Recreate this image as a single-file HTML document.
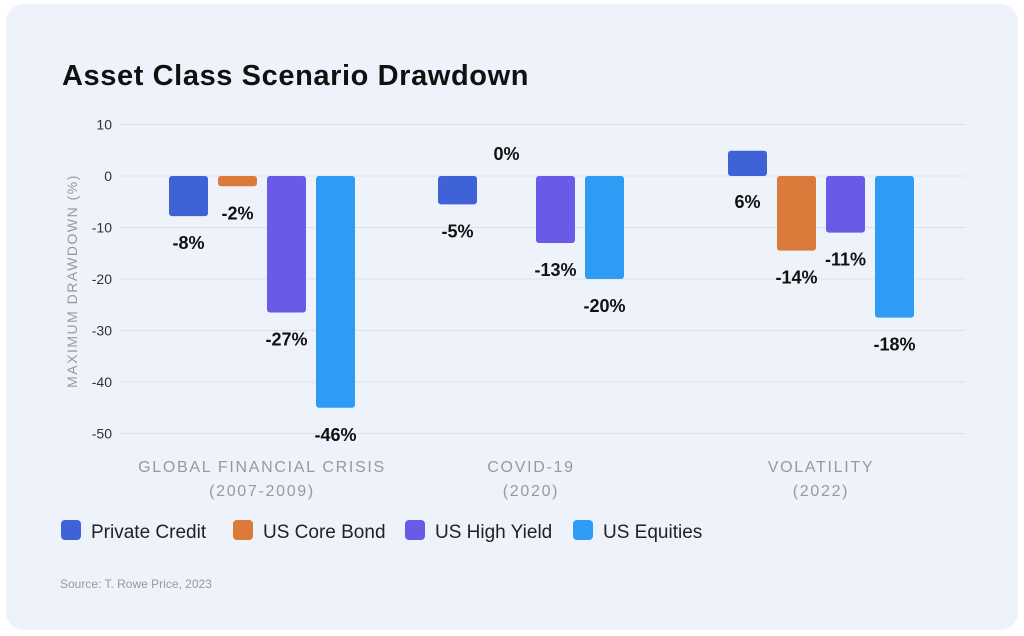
<!DOCTYPE html>
<html><head><meta charset="utf-8"><style>
body{margin:0;width:1024px;height:636px;background:#fff;overflow:hidden;font-family:"Liberation Sans",sans-serif}
#card{position:absolute;left:6px;top:4px;width:1012px;height:626px;background:#eef3fb;border-radius:18px}
</style></head><body>
<div id="card"></div>
<svg id="chart" width="1024" height="636" style="position:absolute;left:0;top:0">
<text x="62" y="85" font-size="29" font-weight="bold" letter-spacing="0.6" fill="#111">Asset Class Scenario Drawdown</text>
<text transform="translate(77,281) rotate(-90)" text-anchor="middle" font-size="14" letter-spacing="1.5" fill="#999">MAXIMUM DRAWDOWN (%)</text>
<text x="60" y="588" font-size="12" fill="#999">Source: T. Rowe Price, 2023</text>
<g id="grid"></g><g id="bars"></g><g id="labels"></g><g id="legend"></g>
</svg>
<script>
const categories=["GLOBAL FINANCIAL CRISIS|(2007-2009)","COVID-19|(2020)","VOLATILITY|(2022)"];
const seriesNames=["Private Credit","US Core Bond","US High Yield","US Equities"];
const privateCredit=[-7.8,-5.5,4.9];
const coreBond=[-2,0,-14.5];
const highYield=[-26.5,-13,-11];
const equities=[-45,-20,-27.5];
const printedPC=["-8%","-5%","6%"];
const printedCore=["-2%","0%","-14%"];
const printedHY=["-27%","-13%","-11%"];
const printedEq=["-46%","-20%","-18%"];
const yTicks=[10,0,-10,-20,-30,-40,-50];
const colors=["#3f63d6","#db7a3a","#6a5ae8","#2e9cf5"];
const groupX=[262,531,821];
const ns="http://www.w3.org/2000/svg";
const y=v=>176-v*5.15;
function mk(t,a,p,txt){const e=document.createElementNS(ns,t);for(const k in a)e.setAttribute(k,a[k]);if(txt!==undefined)e.textContent=txt;p.appendChild(e);return e;}
const grid=document.getElementById('grid');
yTicks.forEach(t=>{
 const l=mk('line',{x1:120,x2:965,y1:y(t),y2:y(t),stroke:'#dde2ea','stroke-width':1},grid);
 
 
 const tx=mk('text',{x:112,y:y(t)+5,'text-anchor':'end','font-size':14,fill:'#333'},grid,t);
 
 
});
const series=[privateCredit,coreBond,highYield,equities];
const printed=[printedPC,printedCore,printedHY,printedEq];
const bars=document.getElementById('bars'),labels=document.getElementById('labels');
categories.forEach((c,i)=>{
 const lines=c.split('|');
 lines.forEach((ln,k)=>{
  const t=mk('text',{x:groupX[i],y:472+k*24,'text-anchor':'middle','font-size':16,'letter-spacing':1.7,fill:'#999'},labels,ln);
  
  
 });
 series.forEach((s,j)=>{
  const v=s[i];const cx=groupX[i]-73.5+j*49;
  if(v!==0){
   const top=Math.min(y(v),y(0)),h=Math.abs(y(v)-y(0));
   const r=mk('rect',{x:cx-19.5,y:top,width:39,height:h,rx:3,fill:colors[j]},bars);
   
   
  }
  const ly=v>0?y(0)+32:(v===0?y(0)-16:y(v)+33);
  const t=mk('text',{x:cx,y:ly,'text-anchor':'middle','font-size':18,'font-weight':'bold',fill:'#111'},labels,printed[j][i]);
  
  
 });
});
const leg=document.getElementById('legend');
const legX=[61,233,405,573];
seriesNames.forEach((n,j)=>{
 const g=mk('g',{},leg);
 
 
 mk('rect',{x:legX[j],y:520,width:20,height:20,rx:4,fill:colors[j]},g);
 mk('text',{x:legX[j]+30,y:538,'font-size':19,fill:'#222'},g,n);
});
</script>
</body></html>
